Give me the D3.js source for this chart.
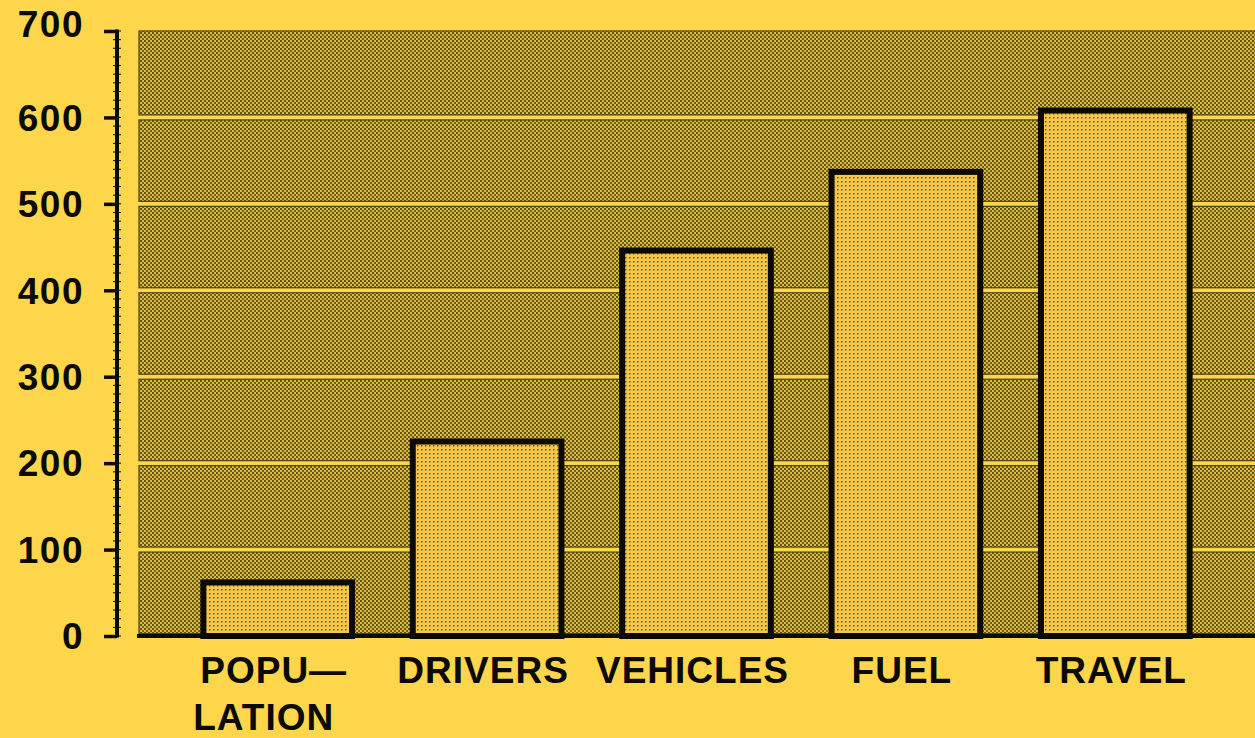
<!DOCTYPE html>
<html>
<head>
<meta charset="utf-8">
<script src="https://cdn.jsdelivr.net/npm/d3@7"></script>
<style>
  html, body { margin: 0; padding: 0; background: #fdd64b; }
  svg { display: block; }
</style>
</head>
<body>
<svg id="chart" width="1255" height="738"></svg>
<script>
// data
var categories = ["POPULATION", "DRIVERS", "VEHICLES", "FUEL", "TRAVEL"];
var labelLines = [["POPU\u2014", "LATION"], ["DRIVERS"], ["VEHICLES"], ["FUEL"], ["TRAVEL"]];
var values = [62, 225, 446, 537, 608];
var yTicks = [0, 100, 200, 300, 400, 500, 600, 700];

var width = 1255, height = 738;
var svg = d3.select("#chart");

var y = d3.scaleLinear().domain([0, 700]).range([636, 31]);
var x = d3.scaleBand().domain(categories).range([173, 1220]).paddingInner(0.29).paddingOuter(0.145);

// patterns
var defs = svg.append("defs");
var pDark = defs.append("pattern")
    .attr("id", "dark").attr("width", 4).attr("height", 4)
    .attr("patternUnits", "userSpaceOnUse");
pDark.append("rect").attr("width", 4).attr("height", 4).attr("fill", "#e2b93a");
pDark.append("rect").attr("x", 0).attr("y", 0).attr("width", 2).attr("height", 2).attr("fill", "#5c561c");
pDark.append("rect").attr("x", 2).attr("y", 2).attr("width", 2).attr("height", 2).attr("fill", "#6a6220");

var pBar = defs.append("pattern")
    .attr("id", "light").attr("width", 4).attr("height", 4)
    .attr("patternUnits", "userSpaceOnUse");
pBar.append("rect").attr("width", 4).attr("height", 4).attr("fill", "#f6c647");
pBar.append("rect").attr("x", 1).attr("y", 1).attr("width", 1.5).attr("height", 1.5).attr("fill", "#6b5c1c");

// plot area, drawn as bands between grid lines
var plotLeft = 139, plotRight = 1262;
var bands = yTicks.slice(0, -1);
svg.append("g").selectAll("rect")
  .data(bands)
  .join("rect")
    .attr("x", plotLeft)
    .attr("y", function (d) { return d === 600 ? y(700) : y(d + 100) + 2.5; })
    .attr("width", plotRight - plotLeft)
    .attr("height", function (d) {
      var top = d === 600 ? y(700) : y(d + 100) + 2.5;
      return y(d) - 2.5 - top;
    })
    .attr("fill", "url(#dark)")
    .attr("stroke", "#4a4212")
    .attr("stroke-width", 1.2);

// bars
svg.append("g").selectAll("rect")
  .data(values)
  .join("rect")
    .attr("x", function (d, i) { return x(categories[i]); })
    .attr("y", function (d) { return y(d); })
    .attr("width", x.bandwidth())
    .attr("height", function (d) { return y(0) - y(d); })
    .attr("fill", "url(#light)")
    .attr("stroke", "#0b0a04")
    .attr("stroke-width", 6);

// baseline
svg.append("line")
    .attr("x1", 137).attr("x2", 1255)
    .attr("y1", y(0)).attr("y2", y(0))
    .attr("stroke", "#0b0a04").attr("stroke-width", 4);

// y axis
var axisX = 117;
var yAxis = d3.axisLeft(y).tickValues(yTicks).tickSize(13).tickFormat("");
var gy = svg.append("g").attr("transform", "translate(" + axisX + ",0)").call(yAxis);
gy.select(".domain").remove();
gy.selectAll(".tick line").attr("stroke", "#0b0a04").attr("stroke-width", 3.5);
gy.append("line")
    .attr("x1", 0).attr("x2", 0)
    .attr("y1", y(700) - 1.5).attr("y2", y(0) + 1.5)
    .attr("stroke", "#0b0a04").attr("stroke-width", 4);
// minor ticks
gy.append("g").selectAll("line")
  .data(d3.range(0, 701, 10))
  .join("line")
    .attr("x1", -4).attr("x2", 4)
    .attr("y1", function (d) { return y(d); })
    .attr("y2", function (d) { return y(d); })
    .attr("stroke", "#0b0a04").attr("stroke-width", 1);

// y tick labels
svg.append("g").selectAll("text")
  .data(yTicks)
  .join("text")
    .attr("x", 84)
    .attr("y", function (d) { return y(d) + (d === 700 ? -7 : 0); })
    .attr("dy", "0.36em")
    .attr("text-anchor", "end")
    .attr("font-family", "Liberation Sans, Arial, sans-serif")
    .attr("font-weight", "bold")
    .attr("font-size", 37)
    .attr("letter-spacing", 1.5)
    .attr("fill", "#0b0a04")
    .text(function (d) { return d; });

// category labels
var labels = svg.append("g").selectAll("text")
  .data(categories)
  .join("text")
    .attr("text-anchor", "middle")
    .attr("font-family", "Liberation Sans, Arial, sans-serif")
    .attr("font-weight", "bold")
    .attr("font-size", 37)
    .attr("letter-spacing", 1)
    .attr("fill", "#0b0a04");
labels.selectAll("tspan")
  .data(function (d, i) { return labelLines[i].map(function (t) { return { t: t, c: d }; }); })
  .join("tspan")
    .attr("x", function (d, j) { return x(d.c) + x.bandwidth() / 2 - 4 - j * 10; })
    .attr("y", function (d, j) { return 683 + j * 47; })
    .text(function (d) { return d.t; });
</script>
</body>
</html>
